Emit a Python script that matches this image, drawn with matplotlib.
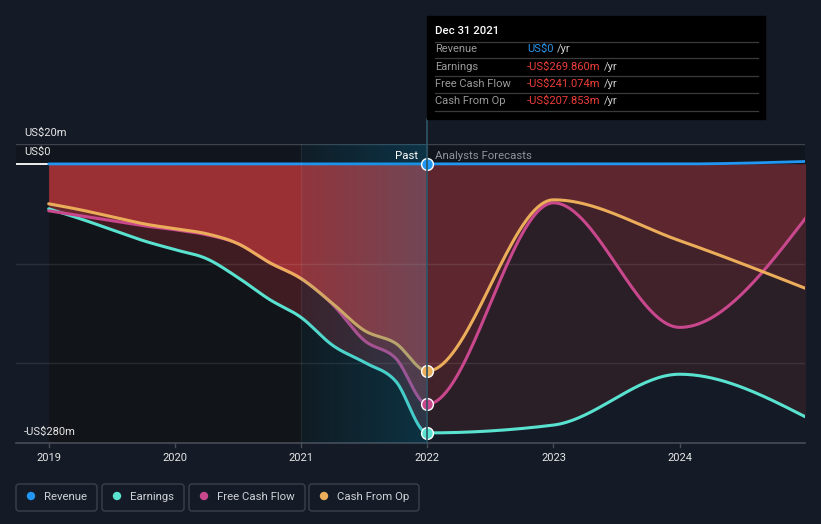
import numpy as np
import matplotlib
matplotlib.use('Agg')
import matplotlib.pyplot as plt
from matplotlib.patches import FancyBboxPatch, Rectangle, Circle
from matplotlib.lines import Line2D
from matplotlib.transforms import IdentityTransform

plt.rcParams['font.family'] = ['Roboto', 'DejaVu Sans']

# ---------------- data (US$ millions) ----------------
years = [2019.00, 2019.25, 2019.50, 2019.75, 2020.00, 2020.25, 2020.50, 2020.75,
         2021.00, 2021.25, 2021.50, 2021.75, 2022.00, 2023.00, 2024.00, 2025.00]
revenue = [0, 0, 0, 0, 0, 0, 0, 0, 0, 0, 0, 0, 0, 0, 0, 2.5]
earnings = [-45, -55, -66, -77, -86, -95, -114, -136, -154, -182, -199, -218, -269.86,
            -262, -211, -254]
fcf = [-47, -52, -57, -62, -66, -71, -80, -99, -115, -141, -177, -195, -241.07,
       -39, -164, -54]
cfo = [-40, -46, -53, -60, -65, -70, -80, -99, -115, -140, -167, -180, -207.85,
       -36, -77, -125]
tick_years = [2019, 2020, 2021, 2022, 2023, 2024]
series_names = ['Revenue', 'Earnings', 'Free Cash Flow', 'Cash From Op']
tooltip_date = 'Dec 31 2021'
tooltip_values = ['US$0', '-US$269.860m', '-US$241.074m', '-US$207.853m']
ytick_vals = [20, 0, -280]
ytick_labels = ['US$20m', 'US$0', '-US$280m']
now_year = 2022.0
highlight_start = 2021.0

# ---------------- style ----------------
BG = '#151b26'
C_REV = '#2196f3'
C_EARN = '#5ae2d0'
C_FCF = '#c9488d'
C_CFO = '#ebad5a'
W, H = 821, 524


def monotone_curve(xs, ys, per=40):
    xs = np.asarray(xs, float)
    ys = np.asarray(ys, float)
    n = len(xs)
    h = np.diff(xs)
    s = np.diff(ys) / h
    m = np.zeros(n)
    for i in range(1, n - 1):
        p = (s[i - 1] * h[i] + s[i] * h[i - 1]) / (h[i - 1] + h[i])
        m[i] = (np.sign(s[i - 1]) + np.sign(s[i])) * min(abs(s[i - 1]), abs(s[i]), 0.5 * abs(p))
    m[0] = (3 * s[0] - m[1]) / 2
    m[-1] = (3 * s[-1] - m[-2]) / 2
    X, Y = [], []
    for i in range(n - 1):
        t = np.linspace(0, 1, per, endpoint=(i == n - 2))
        h00 = 2 * t**3 - 3 * t**2 + 1
        h10 = t**3 - 2 * t**2 + t
        h01 = -2 * t**3 + 3 * t**2
        h11 = t**3 - t**2
        X.append(xs[i] + t * h[i])
        Y.append(h00 * ys[i] + h10 * h[i] * m[i] + h01 * ys[i + 1] + h11 * h[i] * m[i + 1])
    return np.concatenate(X), np.concatenate(Y)


fig = plt.figure(figsize=(W / 100, H / 100), dpi=100, facecolor=BG)
ax = fig.add_axes([16 / W, 1 - 443 / H, (805 - 16) / W, (443 - 144) / H])
ax.set_facecolor(BG)
XMIN, XMAX = 2018.741, 2024.993
YMIN, YMAX = -280, 20

X, R = monotone_curve(years, revenue)
_, E = monotone_curve(years, earnings)
_, F = monotone_curve(years, fcf)
_, C = monotone_curve(years, cfo)

# background zones
ax.fill_between([XMIN, XMAX], 0, YMAX, color='#11161e', zorder=0.2, lw=0)
ax.fill_between([years[0], now_year], YMIN, 0, color='#111419', zorder=0.3, lw=0)

stack = np.sort(np.vstack([E, F, C]), axis=0)
low, mid, top = stack[0], stack[1], stack[2]
past = X <= now_year + 1e-9
fut = X >= now_year - 1e-9
ax.fill_between(X, 0, low, where=past, color='#3f1c22', lw=0, zorder=1)
ax.fill_between(X, 0, mid, where=past, color='#6a262d', lw=0, zorder=1.1)
ax.fill_between(X, 0, top, where=past, color='#9b3034', lw=0, zorder=1.2)
ax.fill_between(X, 0, low, where=fut, color='#2a1e27', lw=0, zorder=1)
ax.fill_between(X, 0, mid, where=fut, color='#41212a', lw=0, zorder=1.1)
ax.fill_between(X, 0, top, where=fut, color='#5e2730', lw=0, zorder=1.2)

# grid lines
ax.plot([XMIN, XMAX], [20, 20], color='#3d424c', lw=1, zorder=2)
for gy in [-100, -200]:
    ax.plot([XMIN, XMAX], [gy, gy], color='white', alpha=0.09, lw=1, zorder=2)
ax.plot([XMIN, XMAX], [YMIN, YMIN], color='#474c57', lw=1.2, zorder=2, clip_on=False)
for ty in tick_years:
    ax.plot([ty, ty], [YMIN, YMIN - 4], color='#474c57', lw=1, zorder=2, clip_on=False)
ax.plot([XMIN, years[0]], [0, 0], color='white', lw=1.3, zorder=2)

# series lines
ax.plot(X, E, color=C_EARN, lw=2.2, zorder=3, solid_capstyle='round')
ax.plot(X, F, color=C_FCF, lw=2.2, zorder=3.1, solid_capstyle='round')
ax.plot(X, C, color=C_CFO, lw=2.2, zorder=3.2, solid_capstyle='round')
ax.plot(X, R, color=C_REV, lw=2.0, zorder=3.3, solid_capstyle='round')

# highlight band (last year of the past)
grad = np.zeros((1, 256, 4))
grad[..., 0] = 0 / 255
grad[..., 1] = 133 / 255
grad[..., 2] = 179 / 255
grad[..., 3] = np.linspace(0.07, 0.27, 256)
ax.imshow(grad, extent=[highlight_start, now_year, YMIN, YMAX], aspect='auto',
          interpolation='bilinear', zorder=4)
ax.plot([highlight_start, highlight_start], [YMIN, YMAX], color='white', alpha=0.06, lw=1, zorder=4.1)

# markers at now
idx_now = years.index(now_year)
for vals, col in [(earnings, C_EARN), (fcf, C_FCF), (cfo, C_CFO), (revenue, C_REV)]:
    ax.plot([now_year], [vals[idx_now]], 'o', ms=8.5, mfc=col, mec='white', mew=1.0, zorder=6)

ax.set_xlim(XMIN, XMAX)
ax.set_ylim(YMIN, YMAX)
ax.axis('off')

# vertical "now" line in figure pixels
x_now_px = 16 + (now_year - XMIN) / (XMAX - XMIN) * (805 - 16)
fig.add_artist(Line2D([x_now_px / W, x_now_px / W], [1 - 119 / H, 1 - 443 / H],
                      color='#2c5464', lw=1.2, zorder=5))


def T(x, y, s, **kw):
    return fig.text(x / W, 1 - y / H, s, **kw)


# y labels
ypx = {20: 132.5, 0: 152, -280: 432}
for v, lab in zip(ytick_vals, ytick_labels):
    T(24, ypx[v], lab, color='#e6e6e6', fontsize=8, va='center', ha='left')

# x labels
for ty in tick_years:
    xp = 16 + (ty - XMIN) / (XMAX - XMIN) * (805 - 16)
    T(xp, 458, str(ty), color='#e6e6e6', fontsize=8, va='center', ha='center')

# Past / Forecast labels
T(418, 156, 'Past', color='white', fontsize=8.2, va='center', ha='right')
T(435, 156, 'Analysts Forecasts', color='#8e939c', fontsize=8.2, va='center', ha='left')

# tooltip
fig.add_artist(Rectangle((427 / W, 1 - 119 / H), (765 - 427) / W, (119 - 16) / H,
                         transform=fig.transFigure, color='#000000', zorder=10))
T(435, 31.5, tooltip_date, color='white', fontsize=8.2, fontweight='medium', va='center', zorder=11)
for sy in [41.7, 58.3, 76, 93.3, 111]:
    fig.add_artist(Line2D([435 / W, 758 / W], [1 - sy / H, 1 - sy / H], color='#3a3a3a', lw=0.9, zorder=11))
row_y = [49.3, 66.7, 84, 100.7]
renderer = fig.canvas.get_renderer()
for i, (nm, val) in enumerate(zip(series_names, tooltip_values)):
    T(435, row_y[i], nm, color='#9a9a9a', fontsize=8, va='center', zorder=11)
    vcol = '#2b95e8' if i == 0 else '#ee3e3a'
    t = T(527, row_y[i], val, color=vcol, fontsize=8, va='center', zorder=11)
    bb = t.get_window_extent(renderer=renderer)
    fig.text((bb.x1 + 3) / W, 1 - row_y[i] / H, '/yr', color='#cfcfcf', fontsize=8, va='center', zorder=11)

# legend
boxes = [(16, 97), (102, 184), (189, 305), (309, 419)]
cols = [C_REV, C_EARN, C_FCF, C_CFO]
for (x0, x1), nm, col in zip(boxes, series_names, cols):
    fig.add_artist(FancyBboxPatch((x0, H - 511), x1 - x0, 27,
                                  boxstyle='round,pad=0,rounding_size=3',
                                  transform=IdentityTransform(), fc='none', ec='#3b404a', lw=1))
    fig.add_artist(Circle((x0 + 15, H - 496), 4.2, transform=IdentityTransform(), fc=col, ec='none'))
    T(x0 + 28, 496.5, nm, color='#cfd2d6', fontsize=8.2, va='center', ha='left')

fig.savefig('out.png', dpi=100, facecolor=BG)
